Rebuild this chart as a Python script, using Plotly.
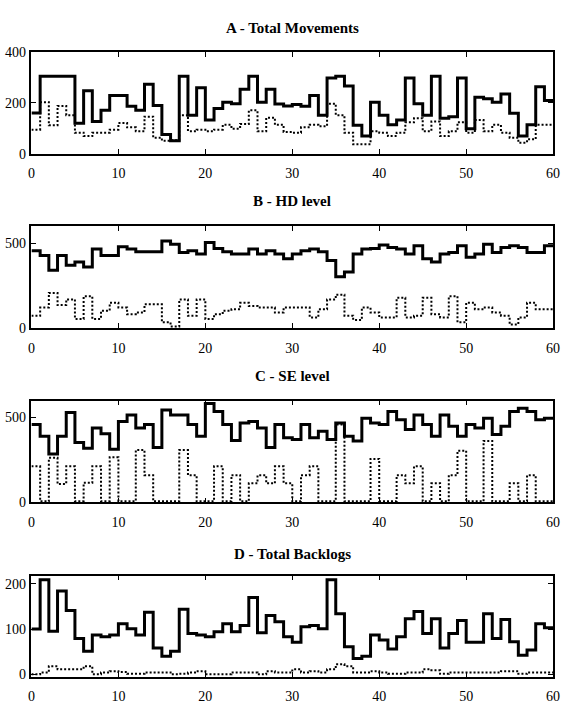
import plotly.graph_objects as go

# ---- data (value held over each unit interval t..t+1, t = 0..59) ----
steps = list(range(61))

a_solid = [160,305,305,305,305,120,248,127,171,229,229,187,171,273,190,76,51,305,152,260,
           133,178,203,197,254,305,203,254,196,188,194,187,229,152,298,305,267,112,70,203,
           152,114,133,298,197,152,305,140,146,298,99,222,216,203,235,159,70,114,264,210]
a_dot = [95,203,112,188,152,83,70,83,83,95,121,104,89,146,63,51,53,152,89,95,
         89,95,114,99,117,171,89,142,114,86,83,104,114,108,197,152,83,38,38,89,
         83,70,83,124,140,89,127,70,89,124,83,133,89,114,83,63,44,57,114,114]

b_solid = [456,427,341,427,370,389,360,466,427,427,479,466,450,450,450,513,494,446,456,437,
           504,469,450,437,437,466,437,456,437,408,437,456,466,450,398,302,331,437,466,469,
           489,475,466,437,485,408,389,437,446,485,418,437,494,446,475,485,475,446,446,485]
b_dot = [73,121,207,136,169,54,188,54,102,149,121,82,92,140,140,34,10,169,73,169,
         54,82,102,111,149,130,121,121,92,121,121,121,63,111,169,197,73,48,121,92,
         63,63,178,63,73,178,82,63,188,34,149,111,121,92,73,21,63,149,111,111]

c_solid = [458,390,285,390,529,352,319,438,404,313,477,515,438,458,323,544,515,515,458,390,
           583,535,458,365,467,477,438,323,458,381,371,458,381,419,371,467,390,362,496,467,
           458,535,487,429,515,458,390,515,448,390,458,438,496,400,448,535,554,535,487,496]
c_dot = [212,6,262,108,212,6,115,212,6,265,6,6,308,160,6,6,6,308,160,6,
         6,212,6,160,6,112,160,112,212,112,6,160,212,6,6,458,6,6,6,256,
         6,6,160,112,212,6,112,6,160,304,6,6,362,6,6,112,6,160,6,6]

d_solid = [100,209,95,184,141,79,51,87,83,87,112,101,87,137,58,40,51,144,90,87,
           83,94,112,94,108,170,92,130,116,83,71,105,108,101,209,134,61,35,40,87,
           76,56,83,123,139,90,123,58,90,119,71,71,134,79,121,72,42,54,112,103]
d_dot = [0,4,18,11,11,11,18,0,4,7,5,1,1,4,4,4,0,1,4,7,
         0,0,0,4,4,4,0,7,4,4,11,4,7,4,11,22,18,4,4,7,
         4,1,1,4,4,11,9,1,4,4,4,4,4,4,7,7,1,4,4,4]

titles = ["A - Total Movements", "B - HD level", "C - SE level", "D - Total Backlogs"]
x_ticks = [0, 10, 20, 30, 40, 50, 60]
y_ticks = [[0, 200, 400], [0, 500], [0, 500], [0, 100, 200]]
y_ranges = [[0, 400], [0, 600], [0, 600], [-5, 218]]

panels = [(a_solid, a_dot), (b_solid, b_dot), (c_solid, c_dot), (d_solid, d_dot)]

# ---- layout geometry ----
W, H = 566, 711
x_dom = [28 / W, 560 / W]
frames = [(46, 150), (224, 328), (402, 506), (581, 684)]
title_y = [21, 198, 377, 559]

fig = go.Figure()
layout = dict(
    width=W, height=H,
    margin=dict(l=0, r=0, t=0, b=0),
    paper_bgcolor="white", plot_bgcolor="white",
    showlegend=False,
    annotations=[],
)

tick_font = dict(family="Liberation Sans Narrow", size=14, color="black")

for i, ((s, d), (top, bot)) in enumerate(zip(panels, frames)):
    n = "" if i == 0 else str(i + 1)
    xa, ya = "x" + n, "y" + n
    fig.add_trace(go.Scatter(x=steps, y=d + [d[-1]], mode="lines", line_shape="hv",
                             line=dict(color="black", width=2, dash="2px,2px"),
                             xaxis=xa, yaxis=ya, hoverinfo="skip"))
    fig.add_trace(go.Scatter(x=steps, y=s + [s[-1]], mode="lines", line_shape="hv",
                             line=dict(color="black", width=3),
                             xaxis=xa, yaxis=ya, hoverinfo="skip"))
    layout["xaxis" + n] = dict(
        domain=x_dom, range=[0, 60], anchor=ya,
        tickvals=x_ticks, ticktext=[str(v) for v in x_ticks],
        ticks="inside", ticklen=5, tickwidth=1, tickcolor="black",
        showline=True, linecolor="black", linewidth=1.5, mirror="ticks",
        showgrid=False, zeroline=False, tickfont=tick_font, ticklabelstandoff=6,
        ticklabeloverflow="allow",
    )
    layout["yaxis" + n] = dict(
        domain=[1 - bot / H, 1 - top / H], range=y_ranges[i], anchor=xa,
        tickvals=y_ticks[i], ticktext=[str(v) for v in y_ticks[i]],
        ticks="inside", ticklen=5, tickwidth=1, tickcolor="black",
        showline=True, linecolor="black", linewidth=1.5, mirror="ticks",
        showgrid=False, zeroline=False, tickfont=tick_font, ticklabelstandoff=1,
        ticklabeloverflow="allow",
    )
    layout["annotations"].append(dict(
        text="<b>" + titles[i] + "</b>", xref="paper", yref="paper",
        x=294 / W, y=1 - title_y[i] / H, xanchor="center", yanchor="middle",
        showarrow=False, font=dict(family="Liberation Serif", size=15, color="black"),
    ))

fig.update_layout(**layout)
fig.write_html("out.html")
